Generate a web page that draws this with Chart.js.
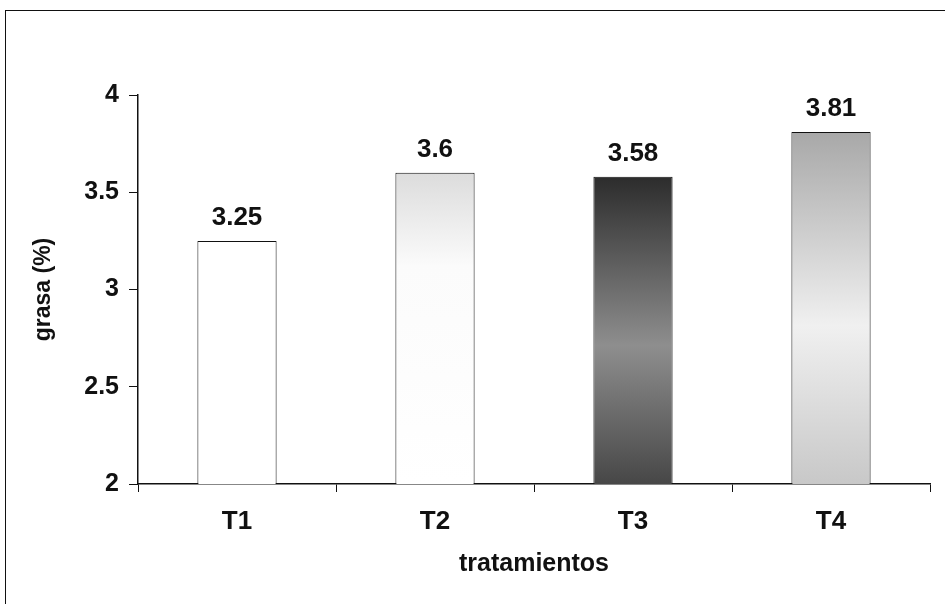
<!DOCTYPE html>
<html>
<head>
<meta charset="utf-8">
<script src="https://cdn.jsdelivr.net/npm/chart.js@4/dist/chart.umd.min.js"></script>
<style>
  html, body { margin: 0; padding: 0; background: #fff; overflow: hidden; }
  #wrap { position: relative; width: 945px; height: 604px; }
  #frame { position: absolute; left: 5px; top: 10px; width: 1000px; height: 700px;
           border-left: 1.5px solid #111; border-top: 1.5px solid #111; }
</style>
</head>
<body>
<div id="wrap">
  <div id="frame"></div>
  <canvas id="barChart" width="945" height="604"></canvas>
</div>
<script>
// Data
const categories = ['T1', 'T2', 'T3', 'T4'];
const grasa = [3.25, 3.6, 3.58, 3.81];
const yTicks = [2, 2.5, 3, 3.5, 4];

const ctx = document.getElementById('barChart').getContext('2d');

// gradient stops per bar (offset, colour), top -> bottom
const fills = [
    [[0, '#ffffff'], [1, '#ffffff']],
    [[0, '#dcdcdc'], [0.3, '#fbfbfb'], [1, '#ffffff']],
    [[0, '#2c2c2c'], [0.55, '#8e8e8e'], [1, '#474747']],
    [[0, '#a8a8a8'], [0.55, '#f0f0f0'], [1, '#c8c8c8']]
];

function barFill(context) {
    const stops = fills[context.dataIndex];
    const y = context.chart.scales.y;
    if (!y || !context.chart.chartArea) return stops[0][1];
    const top = y.getPixelForValue(grasa[context.dataIndex]);
    const base = y.getPixelForValue(y.min);
    if (!isFinite(top) || !isFinite(base) || top === base) return stops[0][1];
    const g = context.chart.ctx.createLinearGradient(0, top, 0, base);
    stops.forEach(s => g.addColorStop(s[0], s[1]));
    return g;
}

// value labels above each bar
const valueLabels = {
    id: 'valueLabels',
    afterDatasetsDraw(chart) {
        const c = chart.ctx;
        const meta = chart.getDatasetMeta(0);
        c.save();
        c.font = 'bold 26px "Liberation Sans", Arial, sans-serif';
        c.fillStyle = '#111';
        c.textAlign = 'center';
        c.textBaseline = 'alphabetic';
        meta.data.forEach((bar, i) => {
            c.fillText(String(grasa[i]), bar.x, bar.y - 16);
        });
        c.restore();
    }
};

new Chart(ctx, {
    type: 'bar',
    data: {
        labels: categories,
        datasets: [{
            data: grasa,
            backgroundColor: barFill,
            borderColor: '#111',
            borderWidth: 1,
            borderSkipped: 'bottom',
            barPercentage: 0.4,
            categoryPercentage: 1
        }]
    },
    options: {
        responsive: false,
        animation: false,
        layout: { padding: { left: 0, top: 95, right: 15, bottom: 0 } },
        plugins: {
            legend: { display: false },
            tooltip: { enabled: false }
        },
        scales: {
            x: {
                grid: { drawOnChartArea: false, drawTicks: true, tickLength: 8, color: '#111', offset: true },
                border: { display: true, color: '#111', width: 1.5 },
                ticks: {
                    color: '#111',
                    padding: 14,
                    font: { family: '"Liberation Sans Narrow", "Liberation Sans", Arial', size: 26, weight: 'bold' }
                },
                title: {
                    display: true,
                    text: 'tratamientos',
                    color: '#111',
                    padding: { top: 0, bottom: 25 },
                    font: { family: '"Liberation Sans", Arial', size: 25, weight: 'bold' }
                },
                afterFit(scale) { scale.height = 604 - 484; }
            },
            y: {
                min: 2,
                max: 4,
                afterBuildTicks(scale) { scale.ticks = yTicks.map(v => ({ value: v })); },
                grid: { drawOnChartArea: false, drawTicks: true, tickLength: 9, color: '#111' },
                border: { display: true, color: '#111', width: 1.5 },
                ticks: {
                    color: '#111',
                    padding: 10,
                    callback: v => String(v),
                    font: { family: '"Liberation Sans", Arial', size: 25, weight: 'bold' }
                },
                title: {
                    display: true,
                    text: 'grasa (%)',
                    color: '#111',
                    padding: { top: 30, bottom: 0 },
                    font: { family: '"Liberation Sans", Arial', size: 23, weight: 'bold' }
                },
                afterFit(scale) { scale.width = 138; }
            }
        }
    },
    plugins: [valueLabels]
});
</script>
</body>
</html>
